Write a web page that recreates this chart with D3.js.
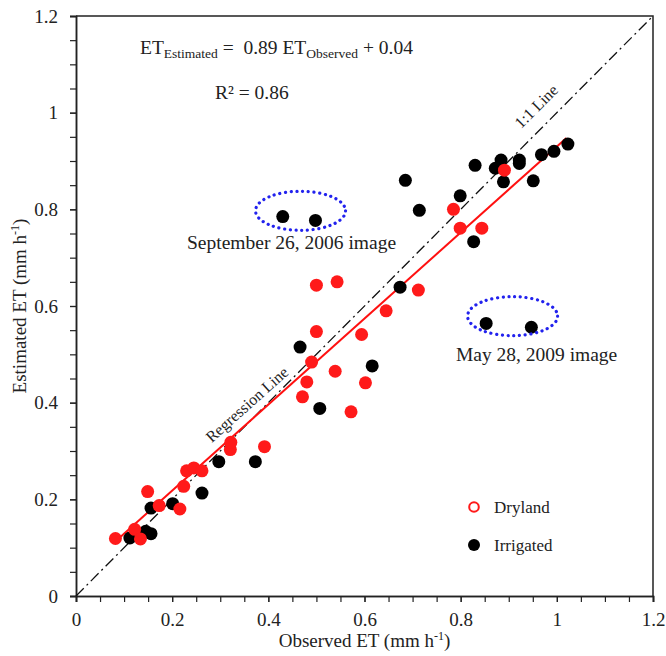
<!DOCTYPE html>
<html lang="en">
  <head>
    <meta charset="UTF-8" />
    <title>Estimated vs observed ET</title>
    <style>
      body {
        margin: 0;
        background: #fff;
      }
      text {
        font-family: "Liberation Serif", "DejaVu Serif", serif;
        fill: #222;
      }
    </style>
  </head>
  <body>
    <div id="chart"></div>

    <script src="https://cdn.jsdelivr.net/npm/d3@7/dist/d3.min.js"></script>

    <script>
      ///////////////////////////////////////////////////////////////////////////
      //////////////////////////////// Data /////////////////////////////////////
      ///////////////////////////////////////////////////////////////////////////

      // Dryland (red) observed / estimated ET, mm h-1
      var dryObs = [0.082, 0.122, 0.134, 0.149, 0.173, 0.216, 0.224, 0.23, 0.245, 0.262, 0.321, 0.322, 0.392,
        0.471, 0.48, 0.49, 0.5, 0.5, 0.539, 0.543, 0.572, 0.594, 0.602, 0.645, 0.712,
        0.785, 0.799, 0.844, 0.891];
      var dryEst = [0.119, 0.138, 0.118, 0.216, 0.187, 0.18, 0.227, 0.259, 0.265, 0.259, 0.303, 0.318, 0.309,
        0.412, 0.443, 0.484, 0.547, 0.643, 0.465, 0.65, 0.381, 0.541, 0.441, 0.59, 0.633,
        0.8, 0.761, 0.761, 0.881];

      // Irrigated (black)
      var irrObs = [0.112, 0.145, 0.156, 0.156, 0.201, 0.262, 0.297, 0.373,
        0.43, 0.498, 0.466, 0.507, 0.616, 0.674,
        0.685, 0.714, 0.799, 0.827, 0.83, 0.853, 0.872, 0.884, 0.889, 0.922, 0.922, 0.947, 0.951, 0.968, 0.994, 1.023];
      var irrEst = [0.12, 0.134, 0.129, 0.182, 0.191, 0.213, 0.278, 0.278,
        0.785, 0.777, 0.515, 0.388, 0.476, 0.639,
        0.86, 0.798, 0.828, 0.733, 0.891, 0.564, 0.885, 0.902, 0.857, 0.902, 0.895, 0.556, 0.859, 0.913, 0.92, 0.935];

      // regression fit and its drawn range
      var slope = 0.89, intercept = 0.04, rSquared = 0.86;
      var fitRange = [0.09, 1.02];

      var majorTicks = [0, 0.2, 0.4, 0.6, 0.8, 1, 1.2];
      var tickLabels = ["0", "0.2", "0.4", "0.6", "0.8", "1", "1.2"];

      // highlighted image dates: centre (obs, est) of the dotted ellipse
      var highlightNames = ["September 26, 2006 image", "May 28, 2009 image"];
      var highlightObs = [0.467, 0.908];
      var highlightEst = [0.797, 0.579];

      ///////////////////////////////////////////////////////////////////////////
      ////////////////////////////// Set up svg /////////////////////////////////
      ///////////////////////////////////////////////////////////////////////////

      var W = 666, H = 656;
      var margin = { top: 16, right: 13, bottom: 60, left: 76 };
      var width = W - margin.left - margin.right,
        height = H - margin.top - margin.bottom;

      var svg = d3
        .select("#chart")
        .append("svg")
        .attr("width", W)
        .attr("height", H);

      var g = svg
        .append("g")
        .attr("transform", "translate(" + margin.left + "," + margin.top + ")");

      var x = d3.scaleLinear().domain([0, 1.2]).range([0, width]);
      var y = d3.scaleLinear().domain([0, 1.2]).range([height, 0]);

      var minorTicks = d3.range(0, 1.2001, 0.05);

      //Axes
      var xAxis = g
        .append("g")
        .attr("transform", "translate(0," + height + ")")
        .call(d3.axisBottom(x).tickValues(minorTicks).tickSize(6).tickFormat(""));
      xAxis
        .append("g")
        .call(
          d3.axisBottom(x).tickValues(majorTicks).tickSize(6).tickPadding(11)
            .tickFormat(function(d, i) { return tickLabels[i]; })
        );

      var yAxis = g
        .append("g")
        .call(d3.axisLeft(y).tickValues(minorTicks).tickSize(6).tickFormat(""));
      yAxis
        .append("g")
        .call(
          d3.axisLeft(y).tickValues(majorTicks).tickSize(6).tickPadding(12)
            .tickFormat(function(d, i) { return tickLabels[i]; })
        );

      g.selectAll(".domain").attr("stroke", "#222").attr("stroke-width", 1.5);
      g.selectAll(".tick line").attr("stroke", "#222").attr("stroke-width", 1.2);
      g.selectAll(".tick text")
        .style("font-family", "'Liberation Serif', serif")
        .style("font-size", "19px")
        .attr("fill", "#222");

      //Top and right frame
      g.append("path")
        .attr("d", "M0,0H" + width + "V" + height)
        .attr("fill", "none")
        .attr("stroke", "#222")
        .attr("stroke-width", 1.5);

      //Axis titles
      var xTitle = svg
        .append("text")
        .attr("x", margin.left + width / 2)
        .attr("y", 647)
        .attr("text-anchor", "middle")
        .style("font-size", "19px")
        .text("Observed ET (mm h");
      xTitle.append("tspan").attr("dy", -7).style("font-size", "12px").text("-1");
      xTitle.append("tspan").attr("dy", 7).text(")");

      var yTitle = svg
        .append("text")
        .attr("transform", "translate(26," + (margin.top + height / 2) + ") rotate(-90)")
        .attr("text-anchor", "middle")
        .style("font-size", "19px")
        .text("Estimated ET (mm h");
      yTitle.append("tspan").attr("dy", -7).style("font-size", "12px").text("-1");
      yTitle.append("tspan").attr("dy", 7).text(")");

      ///////////////////////////////////////////////////////////////////////////
      //////////////////////////// Reference lines //////////////////////////////
      ///////////////////////////////////////////////////////////////////////////

      //1:1 line
      g.append("line")
        .attr("x1", x(0)).attr("y1", y(0))
        .attr("x2", x(1.2)).attr("y2", y(1.2))
        .attr("stroke", "#111")
        .attr("stroke-width", 1.3)
        .attr("stroke-dasharray", "11,4,2,4");

      //Regression line
      g.append("line")
        .attr("x1", x(fitRange[0])).attr("y1", y(slope * fitRange[0] + intercept))
        .attr("x2", x(fitRange[1])).attr("y2", y(slope * fitRange[1] + intercept))
        .attr("stroke", "#ff1010")
        .attr("stroke-width", 2);

      var angFit = (Math.atan(slope * (height / width)) * 180) / Math.PI;

      g.append("text")
        .attr("transform", "translate(" + x(0.363) + "," + y(0.388) + ") rotate(" + -angFit + ")")
        .attr("text-anchor", "middle")
        .style("font-size", "16px")
        .text("Regression Line");

      g.append("text")
        .attr("transform", "translate(" + x(0.965) + "," + y(1.005) + ") rotate(-45)")
        .attr("text-anchor", "middle")
        .style("font-size", "16px")
        .text("1:1 Line");

      ///////////////////////////////////////////////////////////////////////////
      //////////////////////////////// Points ///////////////////////////////////
      ///////////////////////////////////////////////////////////////////////////

      g.selectAll(".irr")
        .data(d3.range(irrObs.length))
        .enter()
        .append("circle")
        .attr("class", "irr")
        .attr("cx", function(i) { return x(irrObs[i]); })
        .attr("cy", function(i) { return y(irrEst[i]); })
        .attr("r", 6.5)
        .attr("fill", "#000");

      g.selectAll(".dry")
        .data(d3.range(dryObs.length))
        .enter()
        .append("circle")
        .attr("class", "dry")
        .attr("cx", function(i) { return x(dryObs[i]); })
        .attr("cy", function(i) { return y(dryEst[i]); })
        .attr("r", 6.5)
        .attr("fill", "#ff1a1a");

      //Dotted ellipses round the two image dates
      g.selectAll(".hl")
        .data(d3.range(highlightNames.length))
        .enter()
        .append("ellipse")
        .attr("class", "hl")
        .attr("cx", function(i) { return x(highlightObs[i]); })
        .attr("cy", function(i) { return y(highlightEst[i]); })
        .attr("rx", 45)
        .attr("ry", 19.5)
        .attr("fill", "none")
        .attr("stroke", "#2222ee")
        .attr("stroke-width", 3.2)
        .attr("stroke-linecap", "round")
        .attr("stroke-dasharray", "0.1,5.6");

      g.selectAll(".hlLabel")
        .data(d3.range(highlightNames.length))
        .enter()
        .append("text")
        .attr("class", "hlLabel")
        .attr("x", function(i) { return x(highlightObs[i]) + (i === 0 ? -9 : 24); })
        .attr("y", function(i) { return y(highlightEst[i]) + (i === 0 ? 38 : 45); })
        .attr("text-anchor", "middle")
        .style("font-size", "19.5px")
        .text(function(i) { return highlightNames[i]; });

      ///////////////////////////////////////////////////////////////////////////
      ////////////////////////// Equation and legend ////////////////////////////
      ///////////////////////////////////////////////////////////////////////////

      var eq = svg.append("text").attr("x", 140).attr("y", 54).style("font-size", "19.5px");
      eq.append("tspan").text("ET");
      eq.append("tspan").attr("dy", 4).style("font-size", "13.5px").text("Estimated");
      eq.append("tspan").attr("dy", -4).text("\u00a0=\u00a0\u00a0" + slope.toFixed(2) + " ET");
      eq.append("tspan").attr("dy", 4).style("font-size", "13.5px").text("Observed");
      eq.append("tspan").attr("dy", -4).text("\u00a0+ " + intercept.toFixed(2));

      svg.append("text")
        .attr("x", 215)
        .attr("y", 99)
        .style("font-size", "19.5px")
        .text("R\u00b2 = " + rSquared.toFixed(2));

      var legendNames = ["Dryland", "Irrigated"];
      var legend = svg
        .selectAll(".legend")
        .data(legendNames)
        .enter()
        .append("g")
        .attr("class", "legend")
        .attr("transform", function(d, i) { return "translate(474," + (507 + i * 38) + ")"; });

      legend
        .append("circle")
        .attr("r", function(d, i) { return i === 0 ? 4.8 : 6; })
        .attr("fill", function(d, i) { return i === 0 ? "none" : "#000"; })
        .attr("stroke", function(d, i) { return i === 0 ? "#ff1a1a" : "none"; })
        .attr("stroke-width", 2);

      legend
        .append("text")
        .attr("x", 20)
        .attr("y", 6)
        .style("font-size", "17px")
        .text(function(d) { return d; });
    </script>
  </body>
</html>
